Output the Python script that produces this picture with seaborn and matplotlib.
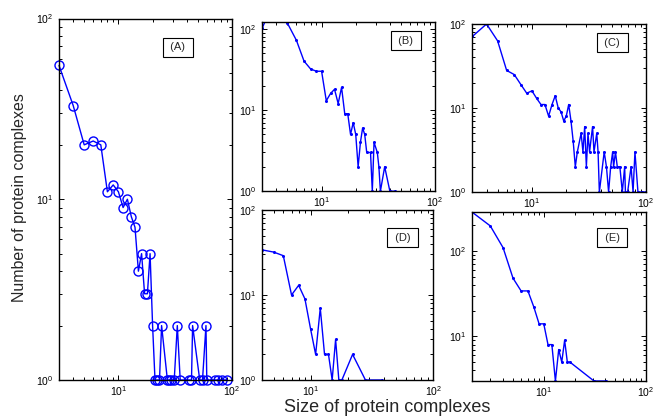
import numpy as np
import pandas as pd
import matplotlib
matplotlib.use("Agg")
import matplotlib.pyplot as plt
from matplotlib.ticker import LogLocator, NullFormatter, LogFormatterSciNotation
import seaborn as sns

# complex size (number of proteins) and how many complexes have that size
a_size = [3, 4, 5, 6, 7, 8, 9, 10, 11, 12, 13, 14, 15, 16, 17, 18, 19, 20, 21, 22, 23, 24,
          27, 28, 29, 31, 33, 35, 42, 44, 45, 52, 55, 59, 60, 71, 76, 81, 90]
a_count = [55, 33, 20, 21, 20, 11, 12, 11, 9, 10, 8, 7, 4, 5, 3, 3, 5, 2, 1, 1, 1, 2,
           1, 1, 1, 1, 2, 1, 1, 1, 2, 1, 1, 2, 1, 1, 1, 1, 1]

b_size = [3, 4, 5, 6, 7, 8, 9, 10, 11, 12, 13, 14, 15, 16, 17, 18, 19, 20, 21, 22, 23, 24, 25,
          27, 28, 29, 31, 32, 33, 36, 40, 44]
b_count = [103, 250, 117, 72, 40, 32, 30, 30, 13, 16, 18, 12, 19, 9, 9, 5, 7, 5, 2, 4, 6, 5, 3,
           3, 1, 4, 3, 2, 1, 2, 1, 1]

c_size = [3, 4, 5, 6, 7, 8, 9, 10, 11, 12, 13, 14, 15, 16, 17, 18, 19, 20, 21, 22, 23, 24, 25,
          27, 28, 29, 30, 31, 32, 34, 35, 37, 38, 39,
          43, 45, 47, 49, 51, 52, 54, 56, 59,
          62, 65, 66, 69, 74, 77, 80, 85, 92, 100]
c_count = [71, 100, 63, 28, 25, 19, 15, 16, 13, 11, 11, 8, 11, 14, 10, 9, 7, 8, 11, 7, 4, 2, 3,
           5, 3, 6, 2, 5, 3, 6, 3, 5, 3, 1,
           3, 2, 1, 2, 3, 2, 3, 2, 2,
           1, 2, 1, 1, 2, 1, 3, 1, 1, 1]

d_size = [4, 5, 6, 7, 8, 9, 10, 11, 12, 13, 14, 15, 16, 17, 18, 22, 28, 38]
d_count = [34, 32, 29, 10, 13, 9, 4, 2, 7, 2, 2, 1, 3, 1, 1, 2, 1, 1]

e_size = [2, 3, 4, 5, 6, 7, 8, 9, 10, 11, 12, 13, 14, 15, 16, 17, 18, 31, 41]
e_count = [283, 196, 109, 48, 34, 34, 22, 14, 14, 8, 8, 3, 7, 5, 9, 5, 5, 3, 3]

panel_names = ["(A)", "(B)", "(C)", "(D)", "(E)"]

sns.set_style("ticks")
plt.rcParams["font.family"] = ["Liberation Sans", "DejaVu Sans"]
plt.rcParams["mathtext.fontset"] = "custom"
plt.rcParams["mathtext.rm"] = "Liberation Sans"
plt.rcParams["mathtext.it"] = "Liberation Sans:italic"
plt.rcParams["mathtext.bf"] = "Liberation Sans:bold"

fig = plt.figure(figsize=(6.53, 4.16), dpi=100)
W, H = 653.0, 416.0


def add_axes(left, top, right, bottom):
    return fig.add_axes([left / W, 1 - bottom / H, (right - left) / W, (bottom - top) / H])


ax_a = add_axes(59, 18.5, 232, 380)
ax_b = add_axes(262.3, 21.5, 435, 191.2)
ax_c = add_axes(472.3, 24, 646, 192)
ax_d = add_axes(261.7, 210, 433.3, 380)
ax_e = add_axes(472.3, 212.3, 646, 381)

panels = [
    (ax_a, a_size, a_count, (1, 100), panel_names[0], (0.688, 0.92)),
    (ax_b, b_size, b_count, (1, 123), panel_names[1], (0.831, 0.888)),
    (ax_c, c_size, c_count, (1, 100), panel_names[2], (0.805, 0.889)),
    (ax_d, d_size, d_count, (1, 100), panel_names[3], (0.82, 0.836)),
    (ax_e, e_size, e_count, (min(e_count), max(e_count)), panel_names[4], (0.806, 0.85)),
]

for i, (ax, sizes, counts, ylim, name, pos) in enumerate(panels):
    df = pd.DataFrame({"size": sizes, "count": counts})
    if i == 0:
        sns.lineplot(data=df, x="size", y="count", ax=ax, sort=False, estimator=None,
                     color="#0000ff", lw=1.0, marker="o", markersize=6.5,
                     markerfacecolor="none", markeredgecolor="#0000ff",
                     markeredgewidth=1.0, clip_on=False)
    else:
        sns.lineplot(data=df, x="size", y="count", ax=ax, sort=False, estimator=None,
                     color="#0000ff", lw=1.0, marker="o", markersize=2.2,
                     markeredgewidth=0)
    ax.set_xscale("log")
    ax.set_yscale("log")
    ax.set_xlim(min(sizes), 100)
    ax.set_ylim(*ylim)
    ax.set_xlabel("")
    ax.set_ylabel("")
    for axis in (ax.xaxis, ax.yaxis):
        axis.set_major_locator(LogLocator(base=10))
        axis.set_minor_locator(LogLocator(base=10, subs=np.arange(2, 10)))
        axis.set_major_formatter(LogFormatterSciNotation())
        axis.set_minor_formatter(NullFormatter())
    ax.tick_params(which="both", direction="in", top=True, right=True,
                   colors="black", labelsize=7.5, width=0.7)
    ax.tick_params(which="major", length=3.5)
    ax.tick_params(which="minor", length=2)
    ax.tick_params(axis="x", pad=3)
    ax.tick_params(axis="y", pad=4)
    for sp in ax.spines.values():
        sp.set_visible(True)
        sp.set_color("black")
        sp.set_linewidth(1.0)
    ax.text(pos[0], pos[1], " " + name + " ", transform=ax.transAxes,
            ha="center", va="center", fontsize=8,
            bbox=dict(boxstyle="square,pad=0.4", fc="white", ec="black", lw=0.8))

fig.text(20 / W, 1 - 198 / H, "Number of protein complexes", rotation=90,
         ha="center", va="center", fontsize=11.5)
fig.text(387 / W, 1 - 407 / H, "Size of protein complexes",
         ha="center", va="center", fontsize=13)

fig.savefig("out.png", dpi=100)
